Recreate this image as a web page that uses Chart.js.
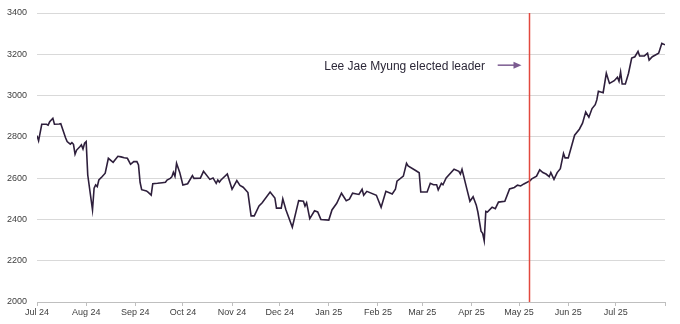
<!DOCTYPE html>
<html>
<head>
<meta charset="utf-8">
<script src="https://cdn.jsdelivr.net/npm/chart.js@4"></script>
<style>
  html, body { margin: 0; padding: 0; background: #fff; }
  #wrap { width: 680px; height: 324px; }
</style>
</head>
<body>
<div id="wrap"><canvas id="kospi"></canvas></div>
<script>
// days counted from 1 Jul 2024
const days = [0, 1, 3, 6, 7, 8, 10, 11, 14, 15, 18, 19, 21, 22, 23, 24, 25, 27, 28, 29, 30, 31, 32, 35, 36, 37, 38, 39, 41, 43, 45, 48, 51, 53, 55, 57, 59, 61, 63, 64, 65, 66, 69, 70, 72, 73, 76, 79, 81, 82, 84, 85, 86, 87, 88, 90, 92, 95, 98, 99, 103, 105, 109, 111, 113, 114, 115, 116, 120, 123, 126, 128, 130, 133, 135, 137, 140, 142, 147, 150, 151, 154, 155, 157, 161, 165, 168, 169, 170, 172, 175, 177, 179, 184, 186, 189, 192, 195, 197, 199, 203, 205, 206, 208, 214, 217, 220, 224, 226, 227, 231, 233, 234, 239, 241, 242, 246, 248, 250, 252, 253, 255, 256, 258, 263, 266, 267, 268, 271, 273, 275, 277, 278, 280, 281, 282, 283, 284, 287, 289, 291, 295, 298, 301, 303, 305, 307, 311, 312, 315, 317, 319, 321, 323, 324, 326, 328, 330, 332, 333, 335, 339, 342, 344, 346, 348, 350, 352, 353, 354, 357, 359, 361, 364, 366, 367, 368, 369, 371, 373, 375, 377, 379, 380, 383, 385, 386, 388, 392, 394, 396];
const kospi = [2806, 2781, 2861, 2861, 2857, 2873, 2890, 2861, 2862, 2864, 2796, 2777, 2765, 2772, 2764, 2716, 2736, 2752, 2761, 2741, 2769, 2777, 2615, 2446, 2551, 2567, 2559, 2591, 2607, 2624, 2696, 2677, 2706, 2703, 2699, 2696, 2667, 2680, 2680, 2664, 2580, 2544, 2538, 2532, 2518, 2573, 2575, 2578, 2580, 2591, 2599, 2606, 2628, 2609, 2672, 2628, 2567, 2573, 2612, 2599, 2600, 2633, 2594, 2601, 2575, 2591, 2581, 2591, 2620, 2546, 2588, 2565, 2556, 2530, 2417, 2417, 2465, 2481, 2533, 2504, 2455, 2455, 2500, 2446, 2362, 2491, 2488, 2465, 2481, 2404, 2442, 2436, 2400, 2397, 2446, 2478, 2527, 2491, 2498, 2527, 2521, 2546, 2517, 2536, 2517, 2459, 2536, 2523, 2546, 2585, 2610, 2672, 2659, 2636, 2626, 2533, 2533, 2575, 2568, 2568, 2543, 2575, 2568, 2601, 2643, 2633, 2620, 2643, 2549, 2488, 2510, 2469, 2436, 2343, 2333, 2297, 2439, 2436, 2459, 2452, 2484, 2488, 2548, 2555, 2566, 2562, 2572, 2588, 2597, 2610, 2640, 2627, 2620, 2607, 2627, 2594, 2627, 2646, 2720, 2698, 2698, 2808, 2837, 2866, 2920, 2895, 2937, 2956, 2979, 3021, 3014, 3108, 3059, 3072, 3089, 3069, 3114, 3056, 3056, 3108, 3182, 3188, 3214, 3192, 3192, 3205, 3172, 3188, 3205, 3253, 3246];

const tickDays = [0, 31, 62, 92, 123, 153, 184, 215, 243, 274, 304, 335, 365, 396];
const tickLabels = ['Jul 24', 'Aug 24', 'Sep 24', 'Oct 24', 'Nov 24', 'Dec 24', 'Jan 25', 'Feb 25', 'Mar 25', 'Apr 25', 'May 25', 'Jun 25', 'Jul 25', ''];

const electionDay = 310.3;
const noteText = 'Lee Jae Myung elected leader';

const points = days.map((d, i) => ({ x: d, y: kospi[i] }));

// red line for the election + text with arrow
const electionMarker = {
  id: 'electionMarker',
  afterDatasetsDraw(chart) {
    const { ctx, chartArea, scales } = chart;
    const xs = scales.x, ys = scales.y;
    const lx = Math.round(xs.getPixelForValue(electionDay)) + 0.5;
    ctx.save();
    ctx.strokeStyle = '#e2483e';
    ctx.lineWidth = 1.5;
    ctx.beginPath();
    ctx.moveTo(lx, chartArea.top);
    ctx.lineTo(lx, chartArea.bottom);
    ctx.stroke();

    const ty = ys.getPixelForValue(3140);
    ctx.fillStyle = '#2c2838';
    ctx.font = '12px "Liberation Sans", Arial, sans-serif';
    ctx.textAlign = 'right';
    ctx.textBaseline = 'middle';
    ctx.fillText(noteText, xs.getPixelForValue(282.5), ty);

    const ax0 = xs.getPixelForValue(290.5), ax1 = xs.getPixelForValue(305.5);
    const ay = ty - 1.5;
    ctx.strokeStyle = '#7b5b90';
    ctx.fillStyle = '#7b5b90';
    ctx.lineWidth = 1.5;
    ctx.beginPath();
    ctx.moveTo(ax0, ay);
    ctx.lineTo(ax1 - 6, ay);
    ctx.stroke();
    ctx.beginPath();
    ctx.moveTo(ax1, ay);
    ctx.lineTo(ax1 - 8, ay - 3.5);
    ctx.lineTo(ax1 - 8, ay + 3.5);
    ctx.closePath();
    ctx.fill();
    ctx.restore();
  }
};

const ctx = document.getElementById('kospi');
new Chart(ctx, {
  type: 'line',
  data: {
    datasets: [{
      data: points,
      borderColor: '#2e1f3c',
      borderWidth: 1.6,
      pointRadius: 0,
      tension: 0,
      fill: false
    }]
  },
  options: {
    responsive: true,
    maintainAspectRatio: false,
    animation: false,
    events: [],
    layout: { padding: { top: 13, right: 15, bottom: 0, left: 0 } },
    plugins: { legend: { display: false }, tooltip: { enabled: false } },
    scales: {
      x: {
        type: 'linear',
        min: 0,
        max: 396,
        afterBuildTicks(scale) {
          scale.ticks = tickDays.map(v => ({ value: v }));
        },
        afterFit(scale) {
          scale.height = 22;
          scale.paddingLeft = 0;
          scale.paddingRight = 0;
        },
        grid: {
          drawOnChartArea: false,
          drawTicks: true,
          tickLength: 4,
          color: '#bfbfbf'
        },
        border: { color: '#bfbfbf' },
        ticks: {
          autoSkip: false,
          maxRotation: 0,
          padding: 1,
          color: '#404040',
          font: { family: '"Liberation Sans", Arial, sans-serif', size: 9 },
          callback: (v, i) => tickLabels[i]
        }
      },
      y: {
        min: 2000,
        max: 3400,
        afterFit(scale) {
          scale.width = 37;
          scale.paddingTop = 0;
          scale.paddingBottom = 0;
        },
        grid: { color: '#d9d9d9', drawTicks: false },
        border: { display: false },
        ticks: {
          stepSize: 200,
          padding: 10,
          color: '#404040',
          font: { family: '"Liberation Sans", Arial, sans-serif', size: 9 },
          callback: v => String(v)
        }
      }
    }
  },
  plugins: [electionMarker]
});
</script>
</body>
</html>
